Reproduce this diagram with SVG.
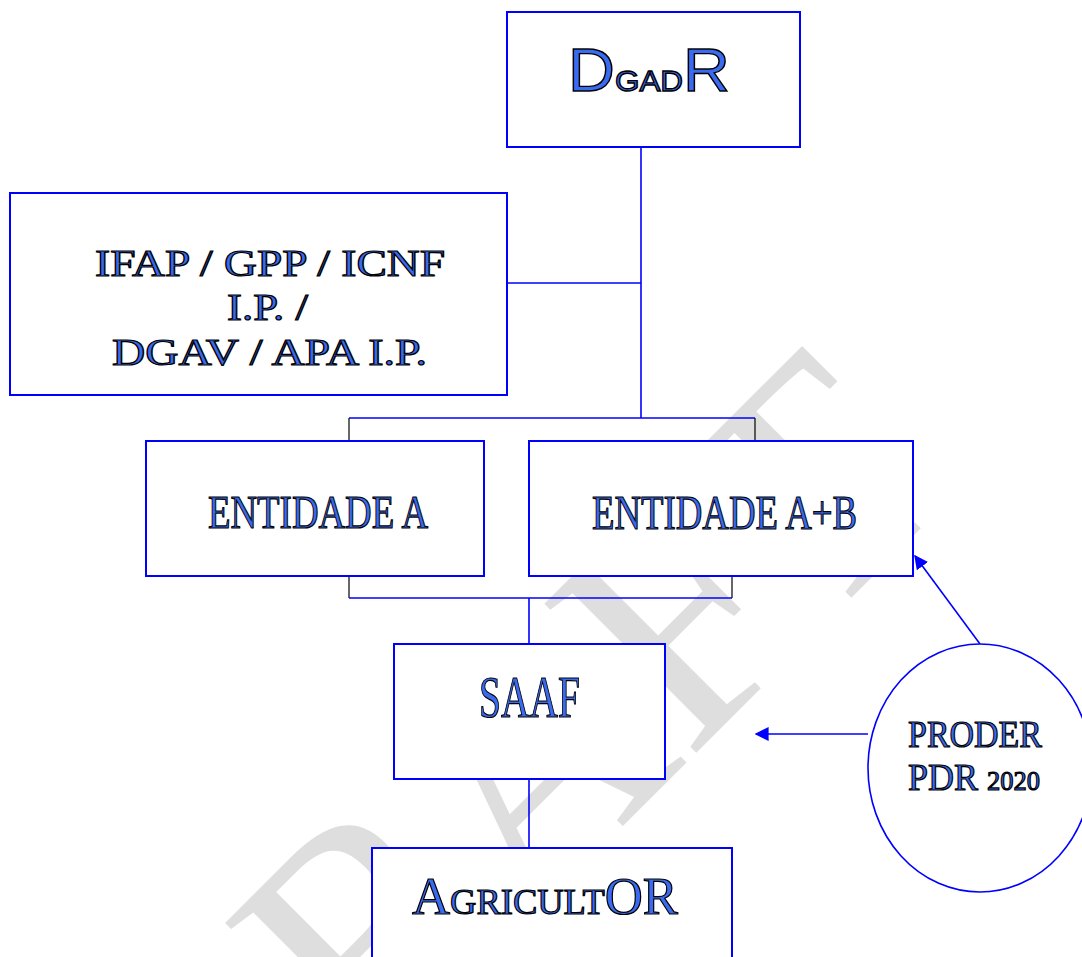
<svg xmlns="http://www.w3.org/2000/svg" width="1082" height="957" viewBox="0 0 1082 957">
<defs>
<style>
.box{fill:#fff;stroke:#0000ff;stroke-width:2}
.ln{stroke:#0000ff;stroke-width:1.6;fill:none}
.bk{stroke:#000;stroke-width:1.2;fill:none}
.t{font-family:"Liberation Serif","Times New Roman",serif;fill:#3a6af0;stroke:#000;stroke-width:1.2}
.ts{font-family:"Liberation Sans",Arial,sans-serif;fill:#3a6af0;stroke:#000;stroke-width:1.4}
.wm{font-family:"Liberation Serif","Times New Roman",serif;fill:#dedede}
</style>
<clipPath id="page"><rect width="1082" height="957"/></clipPath>
<marker id="ah2" viewBox="0 0 10 10" refX="9" refY="5" markerWidth="14" markerHeight="14" markerUnits="userSpaceOnUse" orient="auto">
<path d="M0,0 L10,5 L0,10 z" fill="#0000ff"/>
</marker>
</defs>
<rect width="1082" height="957" fill="#fff"/>
<g id="watermark" clip-path="url(#page)">
<text class="wm" transform="translate(203,1246) rotate(-45)" font-size="325">DRAFT</text>
</g>
<g id="connectors">
<line class="ln" x1="641" y1="147" x2="641" y2="418"/>
<line class="ln" x1="507" y1="283" x2="641" y2="283"/>
<line class="ln" x1="349" y1="418" x2="755" y2="418"/>
<line class="bk" x1="349" y1="418" x2="349" y2="441"/>
<line class="bk" x1="755" y1="418" x2="755" y2="441"/>
<line class="bk" x1="349" y1="576" x2="349" y2="598"/>
<line class="bk" x1="732" y1="576" x2="732" y2="598"/>
<line class="ln" x1="349" y1="598" x2="732" y2="598"/>
<line class="ln" x1="529" y1="598" x2="529" y2="644"/>
<line class="ln" x1="529" y1="779" x2="529" y2="848"/>
<line class="ln" x1="980" y1="644" x2="915" y2="556" marker-end="url(#ah2)"/>
<line class="ln" x1="868" y1="734" x2="756" y2="734" marker-end="url(#ah2)"/>
</g>
<g id="dgadr">
<rect class="box" x="507" y="12" width="293" height="135"/>
<text class="ts" x="568" y="91" font-size="62" textLength="162" lengthAdjust="spacingAndGlyphs">D<tspan font-size="30">GAD</tspan>R</text>
</g>
<g id="ifap">
<rect class="box" x="10" y="193" width="497" height="202"/>
<text class="t" x="95" y="276" font-size="37" textLength="350" lengthAdjust="spacingAndGlyphs">IFAP / GPP / ICNF</text>
<text class="t" x="227" y="320" font-size="37" textLength="81" lengthAdjust="spacingAndGlyphs">I.P. /</text>
<text class="t" x="112" y="365" font-size="37" textLength="315" lengthAdjust="spacingAndGlyphs">DGAV / APA I.P.</text>
</g>
<g id="entidade-a">
<rect class="box" x="146" y="441" width="338" height="135"/>
<text class="t" x="208" y="528" font-size="47" textLength="220" lengthAdjust="spacingAndGlyphs">ENTIDADE A</text>
</g>
<g id="entidade-ab">
<rect class="box" x="529" y="441" width="384" height="135"/>
<text class="t" x="592" y="529" font-size="48" textLength="265" lengthAdjust="spacingAndGlyphs">ENTIDADE A+B</text>
</g>
<g id="saaf">
<rect class="box" x="394" y="644" width="271" height="135"/>
<text class="t" x="479" y="717" font-size="60" textLength="101" lengthAdjust="spacingAndGlyphs">SAAF</text>
</g>
<g id="agricultor">
<rect class="box" x="372" y="848" width="360" height="130"/>
<text class="t" x="412" y="914" font-size="52" textLength="266" lengthAdjust="spacingAndGlyphs">A<tspan font-size="36">GRICULT</tspan>OR</text>
</g>
<g id="proder">
<ellipse cx="980" cy="768" rx="112" ry="124" fill="#fff" stroke="#0000ff" stroke-width="1.6"/>
<text class="t" x="908" y="747" font-size="38" textLength="134" lengthAdjust="spacingAndGlyphs">PRODER</text>
<text class="t" x="908" y="790" font-size="38" textLength="132" lengthAdjust="spacingAndGlyphs">PDR <tspan font-size="28">2020</tspan></text>
</g>
</svg>
